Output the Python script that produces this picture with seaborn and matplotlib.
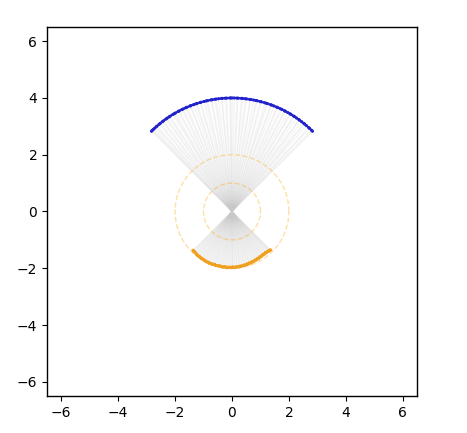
import numpy as np
import pandas as pd
import matplotlib
matplotlib.use("Agg")
import matplotlib.pyplot as plt
import seaborn as sns

# angles (degrees) of the points on the outer arc, radius 4 (unevenly spread)
blue_angle = [45.0, 45.7, 47.1, 47.6, 49.2, 50.4, 50.9, 52.3, 53.6, 54.0, 55.5, 56.8,
              57.2, 58.9, 59.4, 60.7, 62.1, 62.5, 64.0, 64.9, 66.3, 66.8, 68.4, 69.6,
              70.1, 71.8, 72.4, 73.3, 75.0, 75.6, 77.2, 77.9, 79.1, 80.5, 80.9, 82.6,
              83.3, 84.7, 85.2, 86.9, 87.5, 88.8, 89.9, 90.6, 91.1, 92.7, 93.4, 94.9,
              95.3, 96.8, 98.0, 98.6, 100.1, 100.7, 102.4, 103.1, 104.2, 105.8, 106.3,
              107.9, 108.5, 109.7, 111.2, 111.6, 113.3, 114.0, 115.4, 116.1, 117.6,
              118.2, 119.8, 120.5, 121.3, 122.9, 123.6, 124.8, 125.5, 127.0, 127.7,
              129.1, 129.8, 131.3, 131.9, 133.0, 133.8, 134.4, 135.0]
blue_radius = [4.0] * 87
# mapped points on the lower arc (opposite direction, radius about 2)
orange_angle = [a + 180.0 for a in blue_angle]
orange_radius = [1.93, 1.94, 1.95, 1.93, 1.94, 1.96, 1.95, 1.97, 1.96, 1.95, 1.97, 1.96,
                 1.98, 1.97, 1.96, 1.98, 1.97, 1.99, 1.98, 1.97, 1.99, 1.98, 1.97, 1.99,
                 1.98, 1.96, 1.98, 1.99, 1.97, 1.98, 1.96, 1.98, 1.97, 1.99, 1.98, 1.96,
                 1.98, 1.97, 1.99, 1.97, 1.96, 1.98, 1.97, 1.95, 1.97, 1.96, 1.98, 1.96,
                 1.95, 1.97, 1.96, 1.94, 1.96, 1.95, 1.93, 1.95, 1.94, 1.92, 1.94, 1.93,
                 1.91, 1.93, 1.92, 1.90, 1.92, 1.91, 1.89, 1.91, 1.90, 1.88, 1.90, 1.89,
                 1.87, 1.89, 1.88, 1.86, 1.88, 1.87, 1.89, 1.86, 1.88, 1.89, 1.88,
                 1.90, 1.91, 1.90, 1.92]
circle_radii = [1, 2]
ticks = [-6, -4, -2, 0, 2, 4, 6]

bx = np.array(blue_radius) * np.cos(np.deg2rad(blue_angle))
by = np.array(blue_radius) * np.sin(np.deg2rad(blue_angle))
ox = np.array(orange_radius) * np.cos(np.deg2rad(orange_angle))
oy = np.array(orange_radius) * np.sin(np.deg2rad(orange_angle))

sns.set_style("ticks")
fig = plt.figure(figsize=(4.67, 4.33), dpi=100)
ax = fig.add_axes([0.1006, 0.0855, 0.7923, 0.8521])

for x1, y1, x2, y2 in zip(bx, by, ox, oy):
    ax.plot([x1, x2], [y1, y2], color="#c8c8c8", alpha=0.2, lw=0.9, zorder=1)

t = np.linspace(0, 2 * np.pi, 400)
for r in circle_radii:
    ax.plot(r * np.cos(t), r * np.sin(t), color="orange", alpha=0.35, lw=1.0,
            ls="--", zorder=1)

df_b = pd.DataFrame({"x": bx, "y": by})
df_o = pd.DataFrame({"x": ox, "y": oy})
ax.plot(bx, by, color="#2222cc", lw=1.6, zorder=2)
sns.scatterplot(data=df_b, x="x", y="y", color="#2222cc", s=5, edgecolor="none", ax=ax, zorder=3)
ax.plot(ox, oy, color="#f0a020", lw=1.6, zorder=2)
sns.scatterplot(data=df_o, x="x", y="y", color="#f0a020", s=5, edgecolor="none", ax=ax, zorder=3)

ax.set_xlim(-6.5, 6.5)
ax.set_ylim(-6.5, 6.5)
ax.set_xticks(ticks)
ax.set_yticks(ticks)
ax.set_xticklabels([f"{v}".replace("-", "\u2212") for v in ticks])
ax.set_yticklabels([f"{v}".replace("-", "\u2212") for v in ticks])
ax.set_xlabel("")
ax.set_ylabel("")
for s in ax.spines.values():
    s.set_visible(True)
    s.set_color("black")
    s.set_linewidth(1.0)
ax.tick_params(direction="out", length=3.5, width=0.8, colors="black", labelsize=10)
fig.savefig("out.png", dpi=100)
